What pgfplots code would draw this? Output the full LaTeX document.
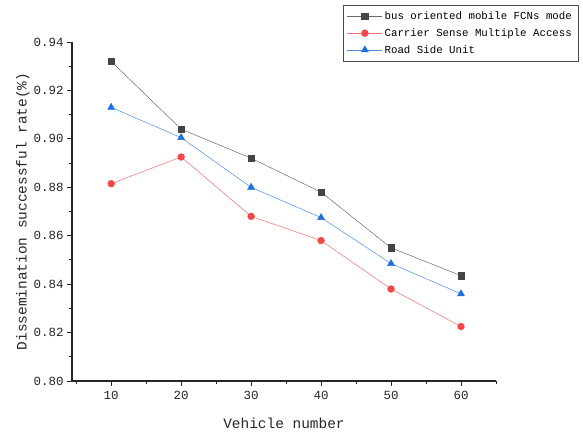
\documentclass[border=0pt]{standalone}
\usepackage{fontspec}
\setmainfont{Liberation Mono}
\usepackage{pgfplots}
\pgfplotsset{compat=1.18}
\definecolor{cblk}{HTML}{454545}
\definecolor{cred}{HTML}{F04848}
\definecolor{cblu}{HTML}{1E6FE0}
\begin{document}
\begin{tikzpicture}
\useasboundingbox (-72bp,-54bp) rectangle (511bp,381bp);
\begin{axis}[
  scale only axis,
  width=424bp, height=339bp,
  xmin=4.4, xmax=65, ymin=0.80, ymax=0.94,
  axis lines*=left,
  axis line style={line width=1.1pt, black!85},
  xtick={10,20,30,40,50,60},
  minor xtick={5,15,25,35,45,55,65},
  ytick={0.80,0.82,0.84,0.86,0.88,0.90,0.92,0.94},
  minor ytick={0.81,0.83,0.85,0.87,0.89,0.91,0.93},
  tick align=outside,
  major tick length=5bp, minor tick length=3bp,
  every tick/.style={black!85, line width=0.9pt},
  /pgf/number format/assume math mode=true,
  yticklabel style={/pgf/number format/.cd, fixed, fixed zerofill, precision=2},
  xticklabel style={yshift=-2bp},
  ticklabel style={font=\fontsize{12.5}{14}\selectfont, text=black!85},
  xlabel={Vehicle number},
  ylabel={Dissemination successful rate(\%)},
  label style={font=\fontsize{14.5}{16}\selectfont, text=black!85},
  xlabel style={yshift=-11bp},
  ylabel style={yshift=-3bp},
  legend style={at={(0.639,1.109)}, anchor=north west, draw=black!70,
    font=\fontsize{10.8}{12.5}\selectfont, row sep=3.5bp, inner xsep=4bp, inner ysep=4.5bp},
  legend cell align=left,
  legend image code/.code={\draw[mark repeat=2,mark phase=2] plot coordinates {(0bp,0bp)(17.5bp,0bp)(35bp,0bp)};},
]
\addplot[color=cblk!80, line width=0.5pt, mark=square*, mark size=3.2bp, mark options={fill=cblk, draw=cblk}]
coordinates {(10,0.932)(20,0.904)(30,0.892)(40,0.878)(50,0.855)(60,0.8435)};
\addlegendentry{bus oriented mobile FCNs mode}
\addplot[color=cred!80, line width=0.5pt, mark=*, mark size=3.4bp, mark options={fill=cred, draw=cred}]
coordinates {(10,0.8815)(20,0.8925)(30,0.868)(40,0.858)(50,0.838)(60,0.8225)};
\addlegendentry{Carrier Sense Multiple Access}
\addplot[color=cblu!80, line width=0.5pt, mark=triangle*, mark size=4bp, mark options={fill=cblu, draw=cblu}]
coordinates {(10,0.913)(20,0.9005)(30,0.880)(40,0.8675)(50,0.8485)(60,0.836)};
\addlegendentry{Road Side Unit}
\end{axis}
\end{tikzpicture}
\end{document}
